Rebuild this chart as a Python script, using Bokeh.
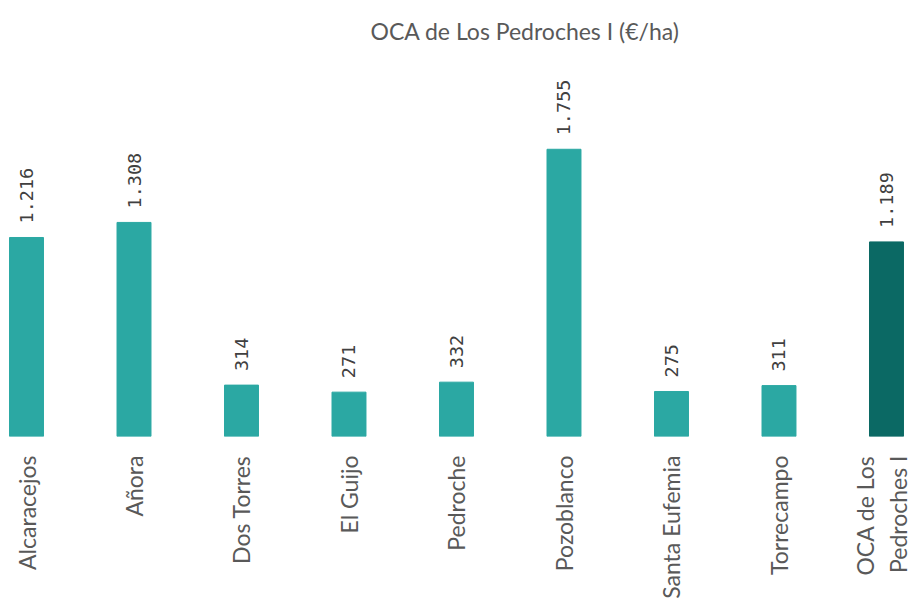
import math
from bokeh.plotting import figure
from bokeh.models import ColumnDataSource, Range1d, FixedTicker, Title
from bokeh.core.properties import value
from bokeh.embed import file_html
from bokeh.resources import INLINE

categories = ["Alcaracejos", "Añora", "Dos Torres", "El Guijo", "Pedroche",
              "Pozoblanco", "Santa Eufemia", "Torrecampo", "OCA de Los\nPedroches I"]
values = [1216, 1308, 314, 271, 332, 1755, 275, 311, 1189]
colors = ["#2BA8A3"] * 8 + ["#0B6964"]

labels = [f"{v:,}".replace(",", ".") for v in values]
xs = list(range(len(categories)))

src = ColumnDataSource(dict(x=xs, top=values, color=colors, label=labels))

p = figure(width=912, height=601, output_backend="svg", toolbar_location=None,
           x_range=Range1d(-0.2419, 8.242), y_range=Range1d(0, 2328),
           min_border_left=0, min_border_right=0, min_border_top=55, min_border_bottom=164)

p.add_layout(Title(text="OCA de Los Pedroches I (€/ha)", align="left", offset=370,
                   standoff=22,
                   text_font="Lato", text_font_size="23px",
                   text_font_style="normal", text_color="#595959"), "above")

p.vbar(x="x", top="top", width=0.316, color="color", source=src)
p.text(x="x", y="top", text="label", source=src, angle=math.pi / 2,
       text_align="left", text_baseline="middle", y_offset=-14,
       text_font=value("DejaVu Sans Mono"), text_font_size="18.5px", text_color="#404040")

# multi-line rotated labels anchor on their first line; nudge the last tick so the block centres on its bar
tick_pos = xs[:-1] + [xs[-1] + 0.2]
p.xaxis.ticker = FixedTicker(ticks=tick_pos)
p.xaxis.major_label_overrides = {t: c for t, c in zip(tick_pos, categories)}
p.xaxis.major_label_orientation = math.pi / 2
p.xaxis.major_label_text_font = "Lato"
p.xaxis.major_label_text_font_size = "23px"
p.xaxis.major_label_text_color = "#595959"
p.xaxis.major_label_standoff = 13
p.xaxis.axis_line_color = None
p.xaxis.major_tick_line_color = None
p.xaxis.minor_tick_line_color = None
p.yaxis.visible = False
p.xgrid.grid_line_color = None
p.ygrid.grid_line_color = None
p.outline_line_color = None

open("out.html", "w").write(file_html(p, INLINE))
